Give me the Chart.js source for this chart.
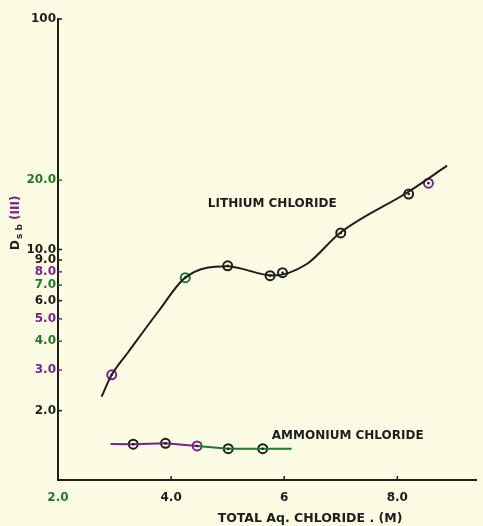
<!DOCTYPE html>
<html><head><meta charset="utf-8">
<script src="https://cdn.jsdelivr.net/npm/chart.js@4"></script>
<style>html,body{margin:0;padding:0;background:#fcfbe4;}canvas{display:block}</style>
</head><body>
<canvas id="c" width="483" height="526"></canvas>
<script>
// ---- data ----
const xTickValues = [2, 4, 6, 8];
const xTickLabels = ['2.0', '4.0', '6', '8.0'];
const yTickValues = [2, 3, 4, 5, 6, 7, 8, 9, 10, 20, 100];
const yTickLabels = ['2.0', '3.0', '4.0', '5.0', '6.0', '7.0', '8.0', '9.0', '10.0', '20.0', '100'];

// measured points (markers)
const liX = [2.95, 4.25, 5.0, 5.75, 5.97, 7.0, 8.2, 8.55];
const liY = [2.86, 7.55, 8.5, 7.7, 7.93, 11.8, 17.4, 19.4];
// fitted smooth curve
const liCurveX = [2.77, 2.95, 3.25, 3.78, 4.25, 4.98, 5.8, 6.4, 6.98, 8.19, 8.88];
const liCurveY = [2.30, 2.86, 3.61, 5.41, 7.55, 8.46, 7.71, 8.65, 11.76, 17.76, 23.1];

const nhX = [3.33, 3.9, 4.46, 5.01, 5.62];
const nhY = [1.43, 1.443, 1.405, 1.367, 1.367];
const nhLineX = [2.93, 3.33, 3.9, 4.46, 5.01, 5.62, 6.13];
const nhLineY = [1.433, 1.43, 1.443, 1.405, 1.367, 1.367, 1.367];

const liLabel = 'LITHIUM CHLORIDE';
const nhLabel = 'AMMONIUM CHLORIDE';
const liLabelPos = [4.65, 15.7];
const nhLabelPos = [5.78, 1.557];
const xTitle = 'TOTAL Aq. CHLORIDE . (M)';

// ---- styles ----
const BG = '#fcfbe4';
const DARK = '#1c1f1a';
const GREEN = '#1f7a2a';
const PURPLE = '#7d1f8c';
const yTickColors = [DARK, PURPLE, GREEN, PURPLE, DARK, GREEN, PURPLE, DARK, DARK, GREEN, DARK];
const xTickColors = [GREEN, DARK, DARK, DARK];
const FONT = 'DejaVu Sans';

const zip = (xs, ys) => xs.map((x, i) => ({x, y: ys[i]}));

const decor = {
  id: 'decor',
  beforeDraw(chart) {
    const ctx = chart.ctx;
    ctx.save();
    ctx.fillStyle = BG;
    ctx.fillRect(0, 0, chart.width, chart.height);
    ctx.restore();
  },
  afterDatasetsDraw(chart) {
    const ctx = chart.ctx;
    [1, 3].forEach(di => {
      chart.getDatasetMeta(di).data.forEach(el => {
        ctx.beginPath();
        ctx.arc(el.x, el.y, 1.3, 0, Math.PI * 2);
        ctx.fillStyle = DARK;
        ctx.fill();
      });
    });
  },
  afterDraw(chart) {
    const ctx = chart.ctx;
    const xs = chart.scales.x, ys = chart.scales.y, ca = chart.chartArea;
    ctx.save();
    ctx.lineWidth = 1.5;
    yTickValues.forEach((v, i) => {
      const py = ys.getPixelForValue(v);
      ctx.strokeStyle = yTickColors[i];
      ctx.beginPath(); ctx.moveTo(ca.left, py); ctx.lineTo(ca.left + 4, py); ctx.stroke();
    });
    xTickValues.forEach((v, i) => {
      if (i === 0) return;
      const px = xs.getPixelForValue(v);
      ctx.strokeStyle = DARK;
      ctx.beginPath(); ctx.moveTo(px, ca.bottom); ctx.lineTo(px, ca.bottom - 4); ctx.stroke();
    });
    ctx.font = 'bold 12px "' + FONT + '"';
    ctx.textBaseline = 'middle';
    ctx.textAlign = 'left';
    ctx.fillStyle = DARK;
    ctx.fillText(liLabel, xs.getPixelForValue(liLabelPos[0]), ys.getPixelForValue(liLabelPos[1]));
    ctx.fillText(nhLabel, xs.getPixelForValue(nhLabelPos[0]), ys.getPixelForValue(nhLabelPos[1]));
    ctx.font = 'bold 12.5px "' + FONT + '"';
    ctx.textAlign = 'center';
    ctx.fillText(xTitle, 310, 519);
    ctx.translate(19, 250);
    ctx.rotate(-Math.PI / 2);
    ctx.textAlign = 'left';
    ctx.textBaseline = 'alphabetic';
    ctx.font = 'bold 12px "' + FONT + '"';
    ctx.fillStyle = DARK;
    ctx.fillText('D', 0, 0);
    let w = ctx.measureText('D').width;
    ctx.font = 'bold 9px "' + FONT + '"';
    ctx.fillText('s b', w + 1, 3);
    w += 1 + ctx.measureText('s b').width;
    ctx.font = 'bold 12px "' + FONT + '"';
    ctx.fillStyle = PURPLE;
    ctx.fillText(' (III)', w, 0);
    ctx.restore();
  }
};

new Chart(document.getElementById('c'), {
  type: 'scatter',
  data: {
    datasets: [
      {
        data: zip(liCurveX, liCurveY), showLine: true, pointRadius: 0,
        borderColor: DARK, borderWidth: 2, cubicInterpolationMode: 'monotone', fill: false
      },
      {
        data: zip(liX, liY), showLine: false, pointRadius: 4.5,
        pointBorderWidth: 2, pointBorderColor: [PURPLE, GREEN, DARK, DARK, DARK, DARK, DARK, PURPLE],
        pointBackgroundColor: BG
      },
      {
        data: zip(nhLineX, nhLineY), showLine: true, pointRadius: 0, borderWidth: 2,
        borderColor: PURPLE, tension: 0,
        segment: { borderColor: c => c.p0.parsed.x >= 4.4 ? GREEN : PURPLE }
      },
      {
        data: zip(nhX, nhY), showLine: false, pointRadius: 4.5,
        pointBorderWidth: 2, pointBorderColor: [DARK, DARK, PURPLE, DARK, DARK],
        pointBackgroundColor: BG
      }
    ]
  },
  options: {
    responsive: false,
    animation: false,
    devicePixelRatio: 1,
    layout: { padding: { top: 19, right: 1, left: 0, bottom: 0 } },
    plugins: { legend: { display: false }, tooltip: { enabled: false } },
    scales: {
      x: {
        type: 'linear', min: 2, max: 9.4,
        afterBuildTicks: s => { s.ticks = xTickValues.map(v => ({value: v})); },
        afterFit: s => { s.height = 46; },
        grid: { display: false, drawTicks: false },
        border: { display: true, color: DARK, width: 2 },
        ticks: {
          padding: 11,
          font: { family: FONT, size: 12, weight: 'bold' },
          color: c => xTickColors[c.index] || DARK,
          callback: v => { const i = xTickValues.indexOf(v); return i >= 0 ? xTickLabels[i] : ''; }
        }
      },
      y: {
        type: 'logarithmic', min: 1, max: 100,
        afterBuildTicks: s => { s.ticks = yTickValues.map(v => ({value: v})); },
        afterFit: s => { s.width = 58; },
        grid: { display: false, drawTicks: false },
        border: { display: true, color: DARK, width: 2 },
        ticks: {
          padding: 2,
          autoSkip: false,
          font: { family: FONT, size: 12, weight: 'bold' },
          color: c => yTickColors[c.index] || DARK,
          callback: v => { const i = yTickValues.indexOf(v); return i >= 0 ? yTickLabels[i] : ''; }
        }
      }
    }
  },
  plugins: [decor]
});
</script>
</body></html>
